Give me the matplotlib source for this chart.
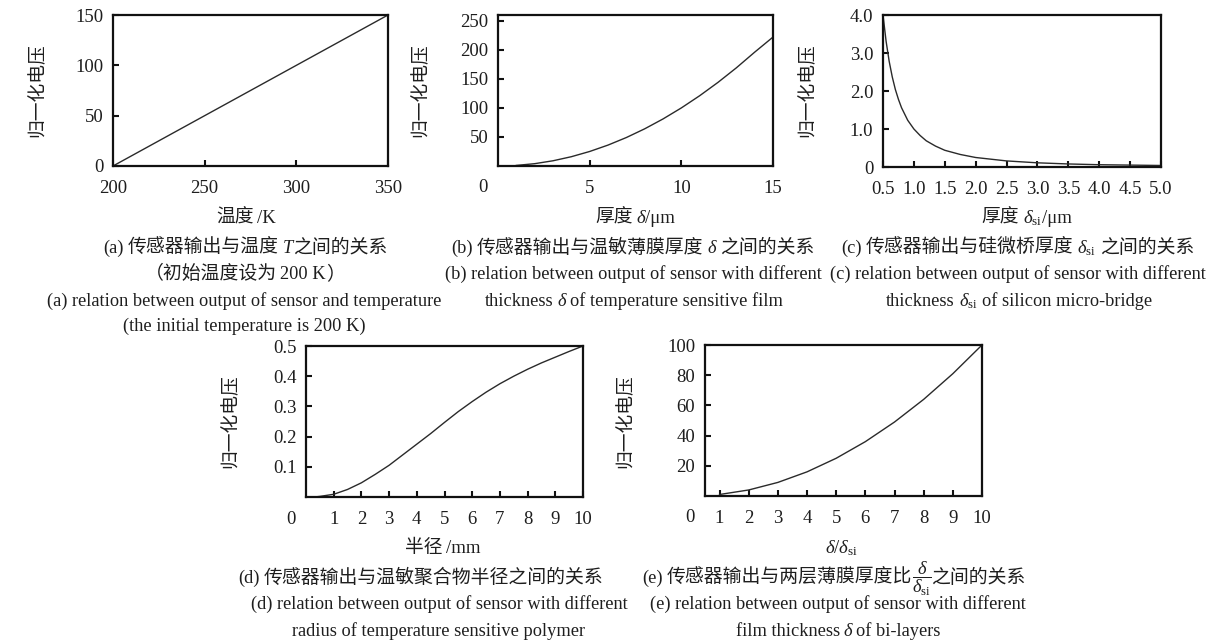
import matplotlib
matplotlib.use("Agg")
import matplotlib.pyplot as plt

# ---------------- data ----------------
a_temp = [200, 250, 300, 350]
a_volt = [0, 50, 100, 150]

b_thick = [1, 2, 3, 4, 5, 6, 7, 8, 9, 10, 11, 12, 13, 14, 15]
b_volt = [1, 4, 9, 16, 25, 36, 49, 64, 81, 100, 121, 144, 169, 196, 222]

c_thick = [0.5, 0.55, 0.6, 0.65, 0.7, 0.75, 0.8, 0.9, 1.0, 1.1, 1.2, 1.35, 1.5,
           1.75, 2.0, 2.5, 3.0, 3.5, 4.0, 4.5, 5.0]
c_volt = [4.00, 3.31, 2.78, 2.37, 2.04, 1.78, 1.56, 1.23, 1.00, 0.83, 0.69, 0.55,
          0.44, 0.33, 0.25, 0.16, 0.11, 0.08, 0.06, 0.05, 0.04]

d_radius = [0.3, 0.5, 1, 1.5, 2, 2.5, 3, 3.5, 4, 4.5, 5, 5.5, 6, 6.5, 7, 7.5, 8,
            8.5, 9, 9.5, 10]
d_volt = [0.0, 0.002, 0.009, 0.025, 0.047, 0.075, 0.105, 0.14, 0.175, 0.21,
          0.247, 0.283, 0.316, 0.347, 0.375, 0.40, 0.423, 0.444, 0.463, 0.482, 0.5]

e_ratio = [1, 2, 3, 4, 5, 6, 7, 8, 9, 10]
e_volt = [1, 4, 9, 16, 25, 36, 49, 64, 81, 100]

a_xticks = [200, 250, 300, 350]
a_yticks = [0, 50, 100, 150]
b_xticks = [5, 10, 15]
b_yticks = [50, 100, 150, 200, 250]
c_xticks = [0.5, 1.0, 1.5, 2.0, 2.5, 3.0, 3.5, 4.0, 4.5, 5.0]
c_yticks = [0, 1.0, 2.0, 3.0, 4.0]
c_yticklabels = ["0", "1.0", "2.0", "3.0", "4.0"]
d_xticks = [1, 2, 3, 4, 5, 6, 7, 8, 9, 10]
d_yticks = [0.1, 0.2, 0.3, 0.4, 0.5]
e_xticks = [1, 2, 3, 4, 5, 6, 7, 8, 9, 10]
e_yticks = [20, 40, 60, 80, 100]

ylabel_text = "归一化电压"

# ---------------- style ----------------
W, H = 1216, 642
plt.rcParams['font.family'] = ['Liberation Serif', 'Noto Sans CJK SC']
plt.rcParams['mathtext.fontset'] = 'custom'
plt.rcParams['mathtext.rm'] = 'Liberation Serif'
plt.rcParams['mathtext.it'] = 'Liberation Serif:italic'
plt.rcParams['mathtext.bf'] = 'Liberation Serif:bold'

TXT = '#1e1e1e'
LINE = '#2a2a2a'
TICK_FS = 13.5
CN = dict(family=['Noto Sans CJK SC'], size=13.6)
EN = dict(family=['Liberation Serif'], size=13.2)
ENI = dict(family=['Liberation Serif'], style='italic', size=13.2)
XL_CN = dict(family=['Noto Sans CJK SC'], size=13.5)
XL_EN = dict(family=['Liberation Serif'], size=13.5)
XL_ENI = dict(family=['Liberation Serif'], style='italic', size=13.5)

fig = plt.figure(figsize=(W / 100, H / 100), dpi=100)
fig.patch.set_facecolor('white')


def make_ax(l, t, r, b):
    ax = fig.add_axes([l / W, 1 - b / H, (r - l) / W, (b - t) / H])
    for s in ax.spines.values():
        s.set_linewidth(1.6)
        s.set_color('#111111')
    ax.tick_params(direction='in', length=4, width=1.5, colors='#111111',
                   labelcolor=TXT, labelsize=TICK_FS)
    ax.tick_params(axis='x', pad=10)
    ax.tick_params(axis='y', pad=7)
    return ax


def corner_zero(ax):
    ax.annotate('0', xy=(0, 0), xycoords='axes fraction', xytext=(-15, -22),
                textcoords='offset pixels', ha='center', va='center',
                fontsize=TICK_FS, color=TXT)


def rich(cx, y, pieces):
    r = fig.canvas.get_renderer()
    items = []
    for p in pieces:
        if isinstance(p, (int, float)):
            items.append((None, p))
            continue
        s, fp = p
        t = fig.text(0, 0, s, ha='left', va='baseline', color=TXT, **fp)
        w = t.get_window_extent(renderer=r).width
        items.append((t, w))
    total = sum(w for _, w in items)
    x = cx - total / 2
    for t, w in items:
        if t is not None:
            t.set_position((x / W, 1 - y / H))
        x += w


def ylab(x, y):
    fig.text(x / W, 1 - y / H, ylabel_text, rotation=90, ha='center', va='center',
             family=['Noto Sans CJK SC'], size=13.5, color=TXT)


# (a)
ax = make_ax(113, 15, 388, 166)
ax.plot(a_temp, a_volt, color=LINE, lw=1.0)
ax.set_xlim(200, 350)
ax.set_ylim(0, 150)
ax.set_xticks(a_xticks)
ax.set_yticks(a_yticks)
ylab(37, 90)

# (b)
ax = make_ax(498, 15, 773, 166)
ax.plot(b_thick, b_volt, color=LINE, lw=1.0)
ax.set_xlim(0, 15)
ax.set_ylim(0, 260)
ax.set_xticks(b_xticks)
ax.set_yticks(b_yticks)
corner_zero(ax)
ylab(420, 90)

# (c)
ax = make_ax(883, 15, 1161, 167)
ax.plot(c_thick, c_volt, color=LINE, lw=1.0)
ax.set_xlim(0.5, 5.0)
ax.set_ylim(0, 4.0)
ax.set_xticks(c_xticks)
ax.set_xticklabels([f"{v:.1f}" for v in c_xticks])
ax.set_yticks(c_yticks)
ax.set_yticklabels(c_yticklabels)
ylab(807, 90)

# (d)
ax = make_ax(306, 346, 583, 497)
ax.plot(d_radius, d_volt, color=LINE, lw=1.0)
ax.set_xlim(0, 10)
ax.set_ylim(0, 0.5)
ax.set_xticks(d_xticks)
ax.set_yticks(d_yticks)
ax.set_yticklabels([f"{v:.1f}" for v in d_yticks])
corner_zero(ax)
ylab(230, 421)

# (e)
ax = make_ax(705, 345, 982, 496)
ax.plot(e_ratio, e_volt, color=LINE, lw=1.0)
ax.set_xlim(0.5, 10)
ax.set_ylim(0, 100)
ax.set_xticks(e_xticks)
ax.set_yticks(e_yticks)
corner_zero(ax)
ylab(625, 421)

# ---------------- x labels ----------------
rich(246, 223, [("温度", XL_CN), 4, ("/K", XL_EN)])
rich(635, 223, [("厚度", XL_CN), 4, ("δ", XL_ENI), ("/μm", XL_EN)])
rich(1027, 223, [("厚度", XL_CN), 4, (r"$\delta_{\mathrm{si}}$", XL_EN), ("/μm", XL_EN)])
rich(443, 553, [("半径", XL_CN), 4, ("/mm", XL_EN)])
rich(842, 553, [(r"$\delta/\delta_{\mathrm{si}}$", XL_EN)])

# ---------------- captions ----------------
rich(245, 253, [("(a)", EN), 4, ("传感器输出与温度", CN), 4, ("T", ENI), ("之间的关系", CN)])
rich(245, 279, [("（初始温度设为", CN), 3, ("200 K", EN), ("）", CN)])
rich(244, 306, [("(a) relation between output of sensor and temperature", EN)])
rich(244, 331, [("(the initial temperature is 200 K)", EN)])

rich(633, 253, [("(b)", EN), 4, ("传感器输出与温敏薄膜厚度", CN), 4, ("δ", ENI), 4, ("之间的关系", CN)])
rich(633, 279, [("(b) relation between output of sensor with different", EN)])
rich(634, 306, [("thickness", EN), 4, ("δ", ENI), 4, ("of temperature sensitive film", EN)])

rich(1018, 253, [("(c)", EN), 4, ("传感器输出与硅微桥厚度", CN), 4, (r"$\delta_{\mathrm{si}}$", EN), 4, ("之间的关系", CN)])
rich(1018, 279, [("(c) relation between output of sensor with different", EN)])
rich(1019, 306, [("thickness", EN), 4, (r"$\delta_{\mathrm{si}}$", EN), 4, ("of silicon micro-bridge", EN)])

rich(421, 583, [("(d)", EN), 4, ("传感器输出与温敏聚合物半径之间的关系", CN)])
rich(439, 609, [("(d) relation between output of sensor with different", EN)])
rich(439, 636, [("radius of temperature sensitive polymer", EN)])

rich(834, 583, [("(e)", EN), 4, ("传感器输出与两层薄膜厚度比", CN),
                (r"$\dfrac{\delta}{\delta_{\mathrm{si}}}$", EN), ("之间的关系", CN)])
rich(838, 609, [("(e) relation between output of sensor with different", EN)])
rich(838, 636, [("film thickness", EN), 4, ("δ", ENI), 4, ("of bi-layers", EN)])

fig.savefig("out.png", dpi=100, facecolor='white')
